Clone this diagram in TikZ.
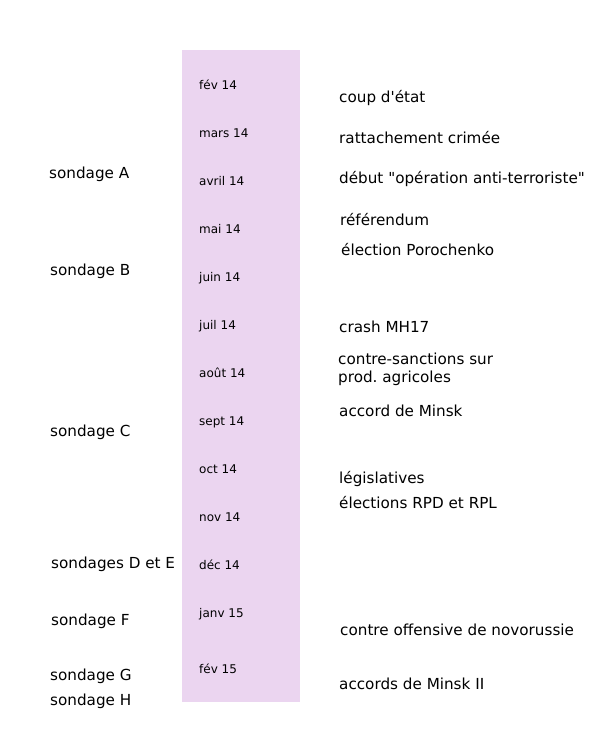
\documentclass[tikz,border=0pt]{standalone}
\usepackage{fontspec}
\setmainfont{DejaVu Sans}[Ligatures=TeXOff]
\frenchspacing
\definecolor{band}{RGB}{235,213,240}
\begin{document}
\begin{tikzpicture}[x=1pt,y=-1pt,
  big/.style={anchor=base west,inner sep=0pt,font=\fontsize{15.2}{17}\selectfont},
  small/.style={anchor=base west,inner sep=0pt,font=\fontsize{12}{14}\selectfont}]
\useasboundingbox (0,0) rectangle (600,750);
\fill[band] (182,50) rectangle (300,702);
\node[small] (m1) at (199,89.4) {fév 14};
\node[small] (m2) at (199,137.4) {mars 14};
\node[small] (m3) at (199,185.4) {avril 14};
\node[small] (m4) at (199,233.4) {mai 14};
\node[small] (m5) at (199,281.4) {juin 14};
\node[small] (m6) at (199,329.4) {juil 14};
\node[small] (m7) at (199,377.4) {août 14};
\node[small] (m8) at (199,425.4) {sept 14};
\node[small] (m9) at (199,473.4) {oct 14};
\node[small] (m10) at (199,521.4) {nov 14};
\node[small] (m11) at (199,569.4) {déc 14};
\node[small] (m12) at (199,617.4) {janv 15};
\node[small] (m13) at (199,673.4) {fév 15};
\node[big] (sA) at (49,178.5) {sondage A};
\node[big] (sB) at (50,275.5) {sondage B};
\node[big] (sC) at (50,436.5) {sondage C};
\node[big] (sDE) at (51,568.5) {sondages D et E};
\node[big] (sF) at (51,625.5) {sondage F};
\node[big] (sG) at (50,680.5) {sondage G};
\node[big] (sH) at (50,705.5) {sondage H};
\node[big] (e1) at (339,102.5) {coup d'état};
\node[big] (e2) at (339,143.5) {rattachement crimée};
\node[big] (e3) at (339,183.5) {début "opération anti-terroriste"};
\node[big] (e4) at (340,225.5) {référendum};
\node[big] (e5) at (341,255.5) {élection Porochenko};
\node[big] (e6) at (339,332.5) {crash MH17};
\node[big] (e7) at (338,364.5) {contre-sanctions sur};
\node[big] (e7b) at (338,382.5) {prod. agricoles};
\node[big] (e8) at (339,416.5) {accord de Minsk};
\node[big] (e9) at (339,483.5) {législatives};
\node[big] (e10) at (339,508.5) {élections RPD et RPL};
\node[big] (e11) at (340,635.5) {contre offensive de novorussie};
\node[big] (e12) at (339,689.5) {accords de Minsk II};
\end{tikzpicture}
\end{document}
